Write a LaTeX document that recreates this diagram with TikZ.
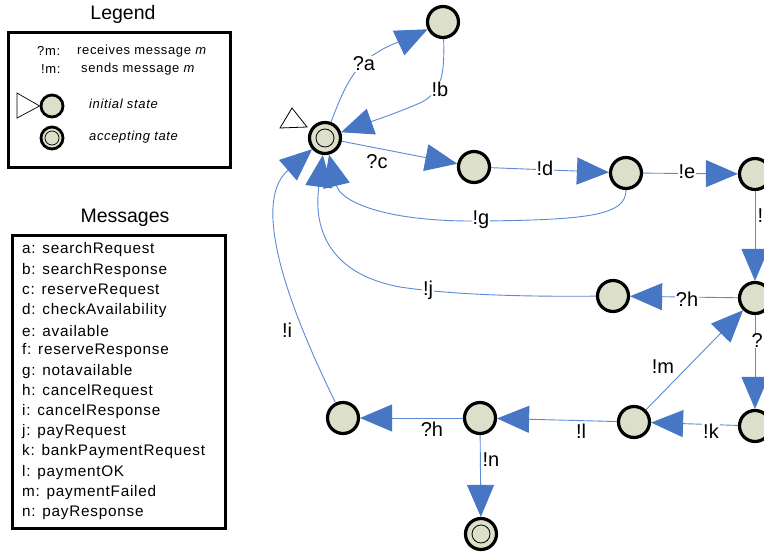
\documentclass[tikz,border=0pt]{standalone}
\usepackage{fontspec}
\setmainfont{Liberation Sans}
\usetikzlibrary{arrows.meta}
\definecolor{nodefill}{HTML}{DCDFCA}
\definecolor{lineblue}{HTML}{5A8BD6}
\definecolor{tipblue}{HTML}{4676C4}
\newfontfamily\spacedfont[LetterSpace=5]{Liberation Sans}
\begin{document}
\begin{tikzpicture}[x=1pt,y=-1pt,
  state/.style={circle,draw=black,line width=3.2pt,fill=nodefill,minimum size=31pt,inner sep=0pt},
  accstate/.style={state,path picture={\draw[line width=0.8pt] (path picture bounding box.center) circle (9pt);}},
  smallstate/.style={circle,draw=black,line width=2.8pt,fill=nodefill,minimum size=22pt,inner sep=0pt},
  smallacc/.style={smallstate,path picture={\draw[line width=0.7pt] (path picture bounding box.center) circle (7pt);}},
  edge/.style={draw=lineblue,line width=0.9pt,-{Triangle[length=32pt,width=27pt,color=tipblue]}},
  lbl/.style={fill=white,inner sep=1pt,font=\fontsize{20}{22}\selectfont},
  legtext/.style={anchor=west,inner sep=0pt,font=\spacedfont\fontsize{13}{15}\selectfont},
  msgtext/.style={anchor=west,inner sep=0pt,font=\spacedfont\fontsize{15.3}{18}\selectfont},
  title/.style={inner sep=0pt,font=\fontsize{19.5}{22}\selectfont}
]
\useasboundingbox (0,0) rectangle (764,554);
\clip (0,0) rectangle (764,554);
\fill[white] (0,0) rectangle (764,554);

% ---------------- Legend ----------------
\node[title] (legtitle) at (123,14) {Legend};
\draw[line width=3pt] (8,32) rectangle (230,167);
\node[legtext] (lg1a) at (37,51) {?m:};
\node[legtext] (lg1b) at (77,51) {receives message \textit{m}};
\node[legtext] (lg2a) at (41,69) {!m:};
\node[legtext] (lg2b) at (81,69) {sends message \textit{m}};
\node[smallstate] (lginit) at (52,106) {};
\draw[line width=0.7pt] (17,93) -- (17,118) -- (lginit.west) -- cycle;
\node[legtext] (lg3) at (89,104) {\itshape initial state};
\node[smallacc] (lgacc) at (52,138) {};
\node[legtext] (lg4) at (89,137) {\itshape accepting tate};

% ---------------- Messages ----------------
\node[title] (msgtitle) at (125,218) {Messages};
\draw[line width=3pt] (12,235) rectangle (225,528);
\foreach \t [count=\k from 0] in {a: searchRequest, b: searchResponse, c: reserveRequest,
  d: checkAvailability, e: available, f: reserveResponse, g: notavailable,
  h: cancelRequest, i: cancelResponse, j: payRequest, k: bankPaymentRequest,
  l: paymentOK, m: paymentFailed, n: payResponse}
  \node[msgtext] (msg\k) at (22,{250+20.2*\k}) {\t};

% ---------------- States ----------------
\node[accstate] (I) at (325,138) {};
\draw[line width=0.8pt,fill=white] (292,108) -- (280,128) -- (307,127) -- cycle;
\node[state] (A) at (443,22) {};
\node[state] (C) at (474,167) {};
\node[state] (D) at (626,173) {};
\node[state] (E) at (755,174) {};
\node[state] (F) at (755,298) {};
\node[state] (H) at (613,296) {};
\node[state] (K) at (755,426) {};
\node[state] (L) at (634,422) {};
\node[state] (M) at (480,418) {};
\node[state] (N) at (343,418) {};
\node[accstate] (Z) at (481,534) {};

% ---------------- Transitions ----------------
\draw[edge] (I) .. controls (345,85) and (355,65) .. (378,52) .. controls (392,43) and (405,40) .. (A);
\draw[edge] (A) .. controls (445,78) and (440,92) .. (422,102) .. controls (400,112) and (370,122) .. (I);
\draw[edge] (I) -- (C);
\draw[edge] (C) -- (D);
\draw[edge] (D) -- (E);
\draw[edge] (D) .. controls (626,215) and (590,220) .. (480,221) .. controls (380,222) and (340,200) .. (I);
\draw[edge] (E) -- (F);
\draw[edge] (F) -- (H);
\draw[edge] (H) .. controls (500,297) and (440,293) .. (400,287) .. controls (340,276) and (312,240) .. (I);
\draw[edge] (F) -- (K);
\draw[edge] (K) -- (L);
\draw[edge] (L) -- (F);
\draw[edge] (L) -- (M);
\draw[edge] (M) -- (N);
\draw[edge] (M) -- (Z);
\draw[edge] (N) .. controls (295,320) and (248,205) .. (I);

% ---------------- Labels ----------------
\node[lbl] (la) at (364,64) {?a};
\node[lbl] (lb) at (440,89) {!b};
\node[lbl] (lc) at (377,162) {?c};
\node[lbl] (ld) at (545,168) {!d};
\node[lbl] (le) at (687,172) {!e};
\node[lbl] (lg) at (481,220) {!g};
\node[lbl,anchor=west,inner sep=0.5pt] (lf) at (757,216) {!};
\node[lbl] (lh1) at (687,299) {?h};
\node[lbl] (lj) at (428,290) {!j};
\node[lbl,anchor=west,inner sep=0.5pt] (lj2) at (751,341) {?};
\node[lbl] (lk) at (711,431) {!k};
\node[lbl] (lm) at (663,367) {!m};
\node[lbl] (ll) at (581,431) {!l};
\node[lbl] (lh2) at (432,429) {?h};
\node[lbl] (ln) at (491,460) {!n};
\node[lbl,inner sep=0.3pt] (li) at (287,330) {!i};
\end{tikzpicture}
\end{document}
